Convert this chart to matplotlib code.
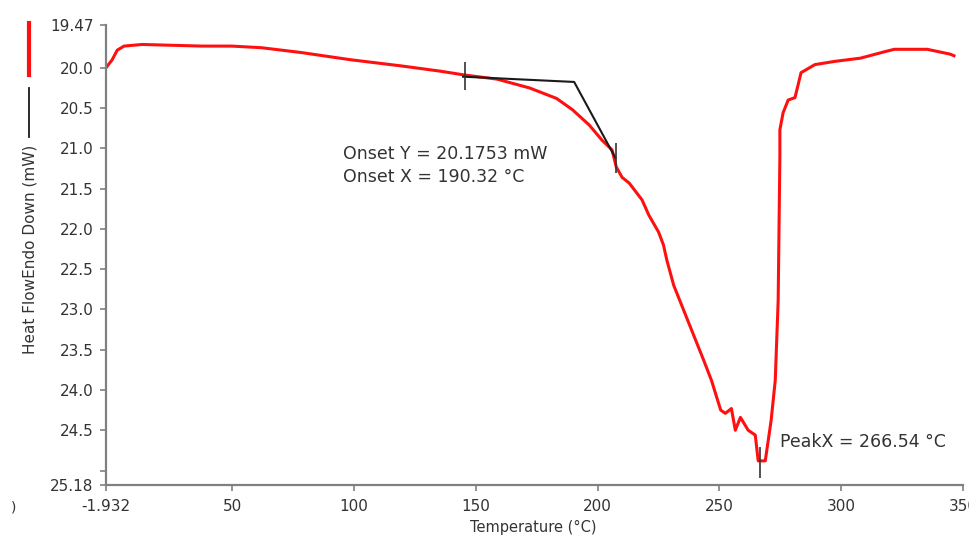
import matplotlib.pyplot as plt
from matplotlib.lines import Line2D

plt.rcParams['font.family'] = ['DejaVu Sans']

# DSC curve (temperature in C, heat flow in mW)
temp = [-1.932, 0.6, 2.7, 5.5, 12.9, 37.3, 49.6, 61.8, 78.2, 98.6, 119.0, 135.0,
        145.5, 158.6, 172.0, 183.1, 189.6, 196.5, 201.8, 205.9, 207.6, 210.0,
        212.9, 218.2, 221.0, 225.0, 227.0, 228.4, 231.2, 235.3, 239.4, 243.5,
        246.7, 250.5, 252.4, 254.9, 256.5, 258.6, 261.8, 264.7, 265.9, 268.8,
        271.2, 272.9, 274.1, 274.8, 274.8, 276.1, 278.2, 281.0, 283.5, 289.2,
        297.3, 307.9, 317.8, 321.8, 335.3, 344.7, 346.3]
heat = [20.00, 19.90, 19.78, 19.73, 19.71, 19.73, 19.73, 19.75, 19.81, 19.90,
        19.975, 20.04, 20.09, 20.14, 20.25, 20.38, 20.52, 20.71, 20.90, 21.02,
        21.23, 21.36, 21.43, 21.64, 21.83, 22.04, 22.20, 22.39, 22.70, 23.01,
        23.32, 23.63, 23.88, 24.25, 24.29, 24.23, 24.50, 24.34, 24.50, 24.56,
        24.88, 24.88, 24.38, 23.88, 22.89, 21.10, 20.77, 20.56, 20.40, 20.37,
        20.06, 19.96, 19.92, 19.88, 19.80, 19.77, 19.77, 19.83, 19.85]

# onset construction: baseline and tangent meeting at the onset point
onset_x = [144.7, 190.32, 207.3]
onset_y = [20.11, 20.1753, 21.12]
marks_x = [145.5, 207.6, 266.54]
marks_lo = [19.93, 20.93, 24.71]
marks_hi = [20.27, 21.31, 25.09]

xticks = [-1.932, 50, 100, 150, 200, 250, 300, 350]
xlabels = ['-1.932', '50', '100', '150', '200', '250', '300', '350']
yticks = [19.47, 20.0, 20.5, 21.0, 21.5, 22.0, 22.5, 23.0, 23.5, 24.0, 24.5, 25.0, 25.18]
ylabels = ['19.47', '20.0', '20.5', '21.0', '21.5', '22.0', '22.5', '23.0', '23.5',
           '24.0', '24.5', '', '25.18']

fig = plt.figure(figsize=(9.69, 5.36), dpi=100)
ax = fig.add_axes([0.1094, 0.0951, 0.8844, 0.858])

ax.plot(temp, heat, color='#ff1010', lw=2.2, solid_joinstyle='round')
ax.plot(onset_x, onset_y, color='#1a1a1a', lw=1.5)
ax.vlines(marks_x, marks_lo, marks_hi, color='#333333', lw=1.2)

ax.set_xlim(-1.932, 350)
ax.set_ylim(25.18, 19.47)
ax.set_xticks(xticks)
ax.set_xticklabels(xlabels)
ax.set_yticks(yticks)
ax.set_yticklabels(ylabels)

for s in ['top', 'right']:
    ax.spines[s].set_visible(False)
for s in ['left', 'bottom']:
    ax.spines[s].set_color('#808080')
    ax.spines[s].set_linewidth(1.6)
ax.tick_params(colors='#808080', labelcolor='#333333', labelsize=11,
               length=4, width=1.2, direction='out')
ax.tick_params(axis='x', pad=6)
ax.tick_params(axis='y', pad=5)

ax.text(0.354, 0.7127, 'Onset Y = 20.1753 mW', transform=fig.transFigure,
        fontsize=12.5, color='#333333', ha='left', va='center')
ax.text(0.354, 0.6698, 'Onset X = 190.32 °C', transform=fig.transFigure,
        fontsize=12.5, color='#333333', ha='left', va='center')
ax.text(0.805, 0.175, 'PeakX = 266.54 °C', transform=fig.transFigure,
        fontsize=12.5, color='#333333', ha='left', va='center')

fig.text(0.031, 0.534, 'Heat FlowEndo Down (mW)', rotation=90, fontsize=11,
         color='#333333', ha='center', va='center')
fig.text(0.550, 0.015, 'Temperature (°C)', fontsize=10.5, color='#333333',
         ha='center', va='center')
fig.text(0.011, 0.054, ')', fontsize=10, color='#333333', ha='left', va='center')

# legend swatches drawn vertically on the left
fig.add_artist(Line2D([0.030, 0.030], [1 - 23 / 536, 1 - 75 / 536],
                      transform=fig.transFigure, color='#ff1010', lw=3))
fig.add_artist(Line2D([0.030, 0.030], [1 - 88 / 536, 1 - 137 / 536],
                      transform=fig.transFigure, color='#1a1a1a', lw=1.3))

fig.savefig('out.png', dpi=100)
